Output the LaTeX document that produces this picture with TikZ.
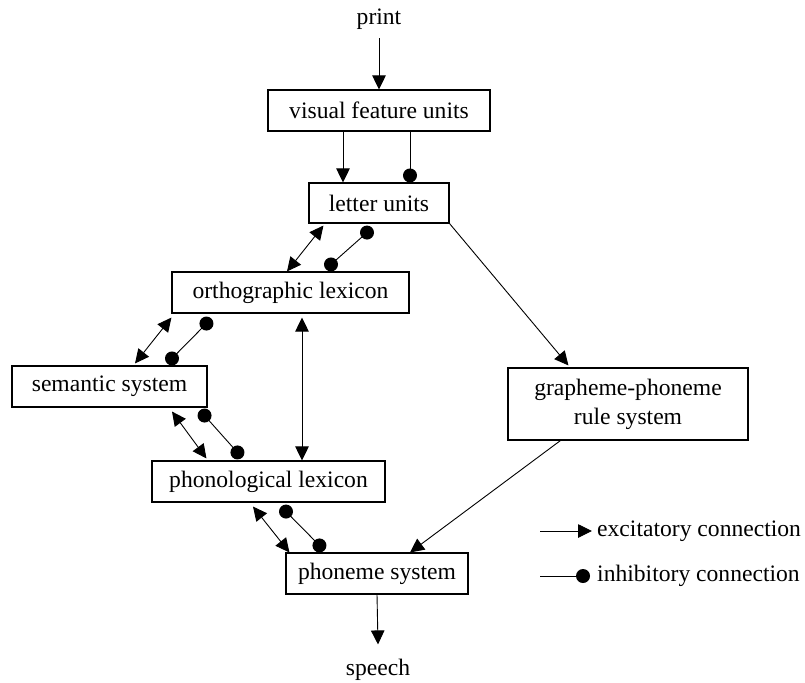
\documentclass[tikz,border=0pt]{standalone}
\usepackage{fontspec}
\setmainfont{Liberation Serif}
\usetikzlibrary{arrows.meta,calc}
\begin{document}
\begin{tikzpicture}[x=1pt,y=-1pt,
  txt/.style={font=\fontsize{23.6}{29}\selectfont},
  box/.style={txt,draw,line width=1.1pt,inner sep=0pt,align=center},
  lbl/.style={txt,inner sep=0pt},
  conn/.style={line width=0.9pt},
  tip/.tip={Triangle[length=14pt,width=13.5pt]},
  exc/.style={conn,-tip},
  bexc/.style={conn,tip-tip},
  dot/.style={circle,fill,inner sep=0pt,minimum size=14pt}]
\useasboundingbox (0,0) rectangle (805,682);

% nodes
\node[lbl,anchor=base] (print) at (379,25) {print};
\node[box,minimum width=222pt,minimum height=41pt] (vf) at (379,110.5) {visual feature units};
\node[box,minimum width=140pt,minimum height=40pt] (lu) at (379,203) {letter units};
\node[box,minimum width=237pt,minimum height=41pt] (ol) at (290.5,292.5) {orthographic lexicon};
\node[box,minimum width=195pt,minimum height=41pt] (ss) at (109.5,386.5) {semantic system};
\node[box,minimum width=233pt,minimum height=41pt] (pl) at (268.5,481.5) {phonological lexicon};
\node[box,minimum width=182pt,minimum height=41pt] (ps) at (377,573.5) {phoneme system};
\node[box,minimum width=240pt,minimum height=72pt] (gp) at (628,404) {grapheme-phoneme\\rule system};
\node[lbl,anchor=base] (sp) at (378,675) {speech};

% print -> visual features
\draw[exc] ($(print.south)+(0,8)$) -- (vf.north);
% visual features -> letter units
\draw[exc] ($(vf.south)+(-36,0)$) -- ($(lu.north)+(-36,0)$);
\node[dot] (d0) at ($(lu.north)+(31,-7)$) {};
\draw[conn] ($(vf.south)+(31,0)$) -- (d0.center);

% letter units <-> orthographic lexicon
\draw[bexc] ($(lu.south west)+(15,2)$) -- ($(ol.north)+(-3.5,0)$);
\node[dot] (d1) at ($(lu.south)+(-12,9)$) {};
\node[dot] (d2) at ($(ol.north)+(40.5,-7)$) {};
\draw[conn] (d1.center) -- (d2.center);

% orthographic lexicon <-> semantic system
\draw[bexc] ($(ol.south west)+(0,4)$) -- ($(ss.north)+(25.5,-2)$);
\node[dot] (d3) at ($(ol.south west)+(35,10)$) {};
\node[dot] (d4) at ($(ss.north)+(62.5,-7)$) {};
\draw[conn] (d3.center) -- (d4.center);

% semantic system <-> phonological lexicon
\draw[bexc] ($(ss.south)+(62.5,4)$) -- ($(pl.north west)+(55,-2)$);
\node[dot] (d5) at ($(ss.south east)+(-3,8)$) {};
\node[dot] (d6) at ($(pl.north west)+(86,-8)$) {};
\draw[conn] (d5.center) -- (d6.center);

% orthographic lexicon <-> phonological lexicon
\draw[bexc] ($(ol.south)+(11.5,4)$) -- ($(pl.north)+(33.5,0)$);

% phonological lexicon <-> phoneme system
\draw[bexc] ($(pl.south)+(-15.5,4)$) -- ($(ps.north west)+(4,0)$);
\node[dot] (d7) at ($(pl.south)+(17.5,9)$) {};
\node[dot] (d8) at ($(ps.north west)+(34,-7)$) {};
\draw[conn] (d7.center) -- (d8.center);

% letter units -> grapheme-phoneme rule system -> phoneme system
\draw[exc] (lu.south east) -- ($(gp.north west)+(61,-2)$);
\draw[exc] ($(gp.south west)+(53,0)$) -- ($(ps.north)+(33,0)$);

% phoneme system -> speech
\draw[exc] (ps.south) -- ($(sp.north)+(0,-14)$);

% legend
\node[lbl,anchor=west] (le) at (597,531) {excitatory connection};
\node[lbl,anchor=west] (li) at (597,576) {inhibitory connection};
\coordinate (le0) at (540,531);
\coordinate (li0) at (540,576);
\node[dot] (ld) at ($(li.west)+(-14,0)$) {};
\draw[exc] (le0) -- ($(le.west)+(-5,0)$);
\draw[conn] (li0) -- (ld.center);
\end{tikzpicture}
\end{document}
